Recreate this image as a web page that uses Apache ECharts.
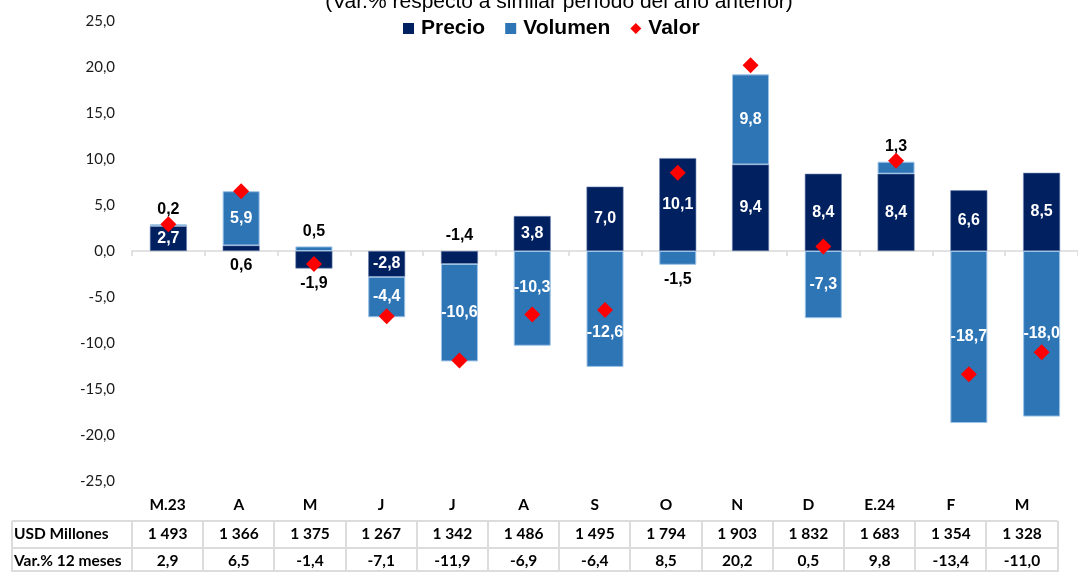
<!DOCTYPE html>
<html>
<head>
<meta charset="utf-8">
<script src="https://cdn.jsdelivr.net/npm/echarts@6/dist/echarts.min.js"></script>
<style>
  html, body { margin: 0; padding: 0; background: #fff; }
  #main { width: 1078px; height: 572px; }
</style>
</head>
<body>
<div id="main"></div>
<script>
// datos
var categorias = ['M.23', 'A', 'M', 'J', 'J', 'A', 'S', 'O', 'N', 'D', 'E.24', 'F', 'M'];
var precio  = [2.7, 0.6, -1.9, -2.8, -1.4, 3.8, 7.0, 10.1, 9.4, 8.4, 8.4, 6.6, 8.5];
var volumen = [0.2, 5.9, 0.5, -4.4, -10.6, -10.3, -12.6, -1.5, 9.8, -7.3, 1.3, -18.7, -18.0];
var valor   = [2.9, 6.5, -1.4, -7.1, -11.9, -6.9, -6.4, 8.5, 20.2, 0.5, 9.8, -13.4, -11.0];
var usdMillones = [1493, 1366, 1375, 1267, 1342, 1486, 1495, 1794, 1903, 1832, 1683, 1354, 1328];

// posicion de etiquetas (como en el original)
var precioPos  = ['inside', 'bottom', 'bottom', 'inside', 'top', 'inside', 'inside', 'inside', 'inside', 'inside', 'inside', 'inside', 'inside'];
var volumenPos = ['top', 'inside', 'top', 'inside', 'inside', 'inside', 'inside', 'bottom', 'inside', 'inside', 'top', 'inside', 'inside'];
var volumenDy  = [0, 0, 0, 0, 0, -11, 24, 0, 0, 0, 0, 0, 0];

function coma(v) { return v.toFixed(1).replace('.', ','); }
function miles(v) { return String(v).replace(/\B(?=(\d{3})+(?!\d))/g, ' '); }

var gridLeft = 132, colW = 71.2, tblTop = 521;
var tableLines = [];
[521, 548, 571].forEach(function (y) {
  tableLines.push({ type: 'line', shape: { x1: 12, y1: y, x2: gridLeft + colW * 13, y2: y }, style: { stroke: '#dcdcdc', lineWidth: 2 } });
});
tableLines.push({ type: 'line', shape: { x1: 12, y1: tblTop, x2: 12, y2: 572 }, style: { stroke: '#dcdcdc', lineWidth: 2 } });
for (var k = 0; k <= 13; k++) {
  var x = Math.round(gridLeft + colW * k);
  tableLines.push({ type: 'line', shape: { x1: x, y1: tblTop, x2: x, y2: 572 }, style: { stroke: '#dcdcdc', lineWidth: 2 } });
}
tableLines.push({ type: 'text', left: 14, top: 526, style: { text: 'USD Millones', font: 'bold 15.5px Lato', fill: '#000' } });
tableLines.push({ type: 'text', left: 14, top: 553, style: { text: 'Var.% 12 meses', font: 'bold 15.5px Lato', fill: '#000' } });

function etiquetas(vals, pos, dy) {
  return vals.map(function (v, i) {
    var inside = pos[i] === 'inside';
    return {
      value: v,
      label: {
        position: pos[i],
        distance: inside ? 0 : 7,
        offset: [0, dy ? dy[i] : 0],
        color: inside ? '#fff' : '#000'
      }
    };
  });
}

var myChart = echarts.init(document.getElementById('main'));
var option = {
  animation: false,
  title: {
    text: '(Var.% respecto a similar período del año anterior)',
    left: 554, textAlign: 'center', top: -13,
    textStyle: { fontFamily: 'Liberation Sans', fontSize: 21, fontWeight: 'normal', color: '#000' }
  },
  legend: {
    top: 13, left: 398,
    itemWidth: 11, itemHeight: 11, itemGap: 20,
    itemStyle: { borderWidth: 0 },
    textStyle: { fontFamily: 'Liberation Sans', fontSize: 21, fontWeight: 'bold', color: '#000', padding: [0, 0, 0, 2] },
    data: [
      { name: 'Precio', icon: 'rect' },
      { name: 'Volumen', icon: 'rect' },
      { name: 'Valor', icon: 'diamond', itemStyle: { color: '#ff0000', opacity: 1 } }
    ]
  },
  grid: [
    { left: gridLeft, right: -7, top: 21, bottom: 91 },
    { left: gridLeft, width: colW * 13, top: 480, height: 10 }
  ],
  xAxis: [
    {
      type: 'category', data: categorias, gridIndex: 0,
      axisLine: { lineStyle: { color: '#d9d9d9', width: 1.5 } },
      axisTick: { show: true, length: 5, lineStyle: { color: '#d9d9d9', width: 1.5 } },
      axisLabel: { show: false }
    },
    {
      type: 'category', data: categorias, gridIndex: 1, position: 'bottom',
      axisLine: { show: false }, axisTick: { show: false },
      axisLabel: { margin: 15, verticalAlign: 'middle', fontFamily: 'Lato', fontWeight: 'bold', fontSize: 15.5, color: '#000' }
    },
    {
      type: 'category', data: usdMillones.map(miles), gridIndex: 1, position: 'bottom',
      axisLine: { show: false }, axisTick: { show: false },
      axisLabel: { margin: 44, verticalAlign: 'middle', fontFamily: 'Lato', fontWeight: 'bold', fontSize: 15.5, color: '#000' }
    },
    {
      type: 'category', data: valor.map(coma), gridIndex: 1, position: 'bottom',
      axisLine: { show: false }, axisTick: { show: false },
      axisLabel: { margin: 71, verticalAlign: 'middle', fontFamily: 'Lato', fontWeight: 'bold', fontSize: 15.5, color: '#000' }
    }
  ],
  yAxis: [
    {
      type: 'value', gridIndex: 0, min: -25, max: 25, interval: 5,
      axisLine: { show: false }, axisTick: { show: false }, splitLine: { show: false },
      axisLabel: { margin: 17, fontFamily: 'Lato', fontSize: 15, color: '#1a1a1a', formatter: coma }
    },
    { type: 'value', gridIndex: 1, show: false }
  ],
  series: [
    {
      name: 'Precio', type: 'bar', stack: 'total', barWidth: 37,
      itemStyle: { color: '#002060', borderColor: '#6f86b3', borderWidth: 0.6 },
      label: { show: true, fontFamily: 'Liberation Sans', fontSize: 16, fontWeight: 'bold', formatter: function (p) { return coma(p.value); } },
      data: etiquetas(precio, precioPos)
    },
    {
      name: 'Volumen', type: 'bar', stack: 'total', barWidth: 37,
      itemStyle: { color: '#2e75b6', borderColor: '#9dc3e6', borderWidth: 1 },
      label: { show: true, fontFamily: 'Liberation Sans', fontSize: 16, fontWeight: 'bold', formatter: function (p) { return coma(p.value); } },
      data: etiquetas(volumen, volumenPos, volumenDy)
    },
    {
      name: 'Valor', type: 'scatter', symbol: 'diamond', symbolSize: 16, z: 5,
      itemStyle: { color: '#ff0000', opacity: 1 },
      data: valor
    }
  ],
  graphic: tableLines
};
myChart.setOption(option);
</script>
</body>
</html>
